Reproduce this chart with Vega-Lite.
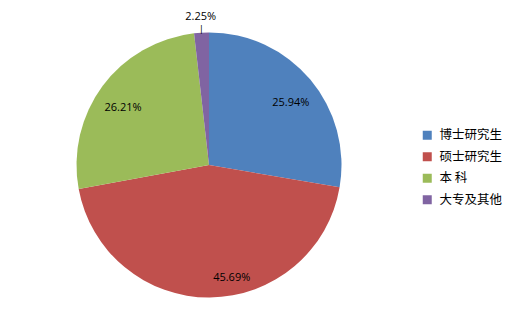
{
  "$schema": "https://vega.github.io/schema/vega-lite/v6.json",
  "width": 418,
  "height": 330,
  "padding": {"left": 0, "top": 0, "right": 97, "bottom": 1},
  "autosize": {"type": "none"},
  "background": "white",
  "config": {"view": {"stroke": null}},
  "data": {
    "values": [
      {"idx": 1, "cat": "博士研究生", "share": 27.7, "label": "25.94%"},
      {"idx": 2, "cat": "硕士研究生", "share": 44.4, "label": "45.69%"},
      {"idx": 3, "cat": "本 科", "share": 26.1, "label": "26.21%"},
      {"idx": 4, "cat": "大专及其他", "share": 1.8, "label": "2.25%"}
    ]
  },
  "encoding": {
    "theta": {"field": "share", "type": "quantitative", "stack": true},
    "order": {"field": "idx", "type": "quantitative"}
  },
  "layer": [
    {
      "mark": {"type": "arc", "outerRadius": 132.5},
      "encoding": {
        "color": {
          "field": "cat",
          "type": "nominal",
          "sort": null,
          "scale": {
            "domain": ["博士研究生", "硕士研究生", "本 科", "大专及其他"],
            "range": ["#4F81BD", "#C0504D", "#9BBB59", "#8064A2"]
          },
          "legend": {
            "title": null,
            "orient": "none",
            "legendX": 421,
            "legendY": 129,
            "symbolType": "square",
            "symbolSize": 81,
            "symbolStrokeWidth": 0,
            "labelFont": "Noto Sans CJK SC",
            "labelFontSize": 12.5,
            "labelColor": "#000000",
            "rowPadding": 8.5,
            "labelOffset": 6
          }
        }
      }
    },
    {
      "mark": {"type": "text", "radius": 107, "dy": 7, "font": "Open Sans", "fontSize": 11, "fill": "#000000", "baseline": "middle"},
      "encoding": {
        "text": {"condition": {"test": "datum.idx == 1 || datum.idx == 3", "field": "label"}, "value": ""}
      }
    },
    {
      "mark": {"type": "text", "radius": 113, "dx": 22, "font": "Open Sans", "fontSize": 11, "fill": "#000000", "baseline": "middle"},
      "encoding": {
        "text": {"condition": {"test": "datum.idx == 2", "field": "label"}, "value": ""}
      }
    },
    {
      "mark": {"type": "text", "radius": 148, "font": "Open Sans", "fontSize": 11, "fill": "#000000", "baseline": "middle"},
      "encoding": {
        "text": {"condition": {"test": "datum.idx == 4", "field": "label"}, "value": ""}
      }
    },
    {
      "mark": {"type": "text", "radius": 135.5, "font": "DejaVu Sans", "fontSize": 8, "fill": "#000000", "baseline": "middle"},
      "encoding": {
        "text": {"condition": {"test": "datum.idx == 4", "value": "|"}, "value": ""}
      }
    }
  ]
}
